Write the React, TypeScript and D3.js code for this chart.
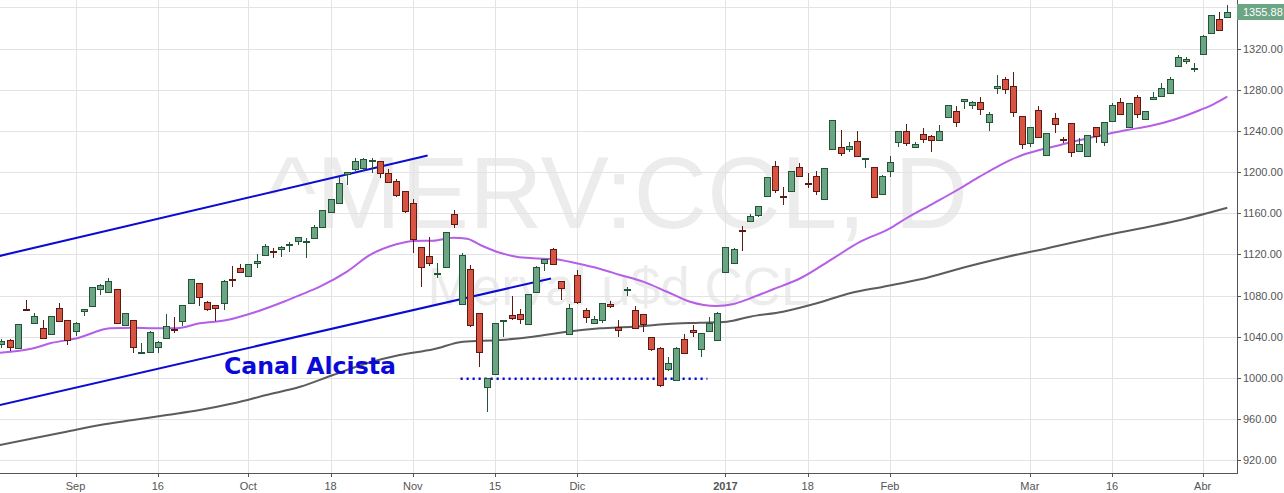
import React from 'react';
import * as d3 from 'd3';

const W = 1284;
const H = 493;

// OHLC series (daily candles)
const opens = [
  1032.7, 1036.6, 1029.4, 1067.0, 1053.7, 1048.3, 1042.5, 1067.7, 1056.1, 1046.0,
  1065.4, 1070.2, 1086.8, 1083.8, 1086.2, 1051.5, 1056.1, 1024.6, 1025.0, 1030.4,
  1039.2, 1047.6, 1055.4, 1073.2, 1092.0, 1074.1, 1070.6, 1073.2, 1096.5, 1106.9,
  1099.4, 1111.4, 1119.2, 1122.9, 1125.6, 1128.9, 1132.8, 1132.5, 1135.7, 1147.0,
  1161.0, 1169.7, 1197.9, 1203.3, 1203.7, 1211.2, 1210.8, 1198.9, 1191.4, 1181.4,
  1169.7, 1127.0, 1118.2, 1100.7, 1107.5, 1159.3, 1071.6, 1105.6, 1062.9, 991.5,
  1003.6, 1055.4, 1060.9, 1062.2, 1052.2, 1083.8, 1111.4, 1125.0, 1094.2, 1042.5,
  1099.8, 1065.8, 1053.7, 1056.6, 1071.9, 1049.1, 1086.0, 1066.1, 1061.9, 1039.5,
  1029.4, 1009.0, 998.1, 1037.6, 1046.3, 1027.9, 1045.7, 1036.9, 1102.7, 1111.4,
  1143.5, 1152.8, 1158.7, 1177.1, 1206.0, 1176.8, 1182.0, 1204.7, 1189.4, 1196.0,
  1173.6, 1222.8, 1224.1, 1222.8, 1230.0, 1212.6, 1204.7, 1178.5, 1200.8, 1229.0,
  1239.7, 1224.1, 1236.8, 1235.4, 1230.9, 1253.9, 1259.7, 1268.8, 1264.9, 1267.9,
  1248.4, 1281.5, 1290.2, 1283.4, 1254.2, 1228.0, 1260.1, 1216.6, 1252.6, 1232.2,
  1247.4, 1220.8, 1216.0, 1243.6, 1229.0, 1249.7, 1267.9, 1243.6, 1272.7, 1251.3,
  1270.8, 1274.3, 1276.6, 1303.1, 1307.7, 1300.9, 1314.5, 1334.9, 1348.5, 1351.0,
];
const highs = [
  1038.2, 1037.6, 1052.5, 1075.8, 1063.4, 1056.3, 1060.5, 1073.2, 1056.3, 1054.7,
  1066.7, 1088.5, 1091.3, 1096.9, 1086.5, 1063.5, 1056.5, 1033.7, 1045.2, 1035.9,
  1062.2, 1059.0, 1070.8, 1096.3, 1092.3, 1074.5, 1070.8, 1095.0, 1108.8, 1110.5,
  1111.0, 1120.5, 1130.2, 1126.0, 1128.0, 1131.8, 1137.3, 1136.0, 1148.2, 1163.3,
  1174.0, 1195.0, 1200.1, 1214.0, 1213.4, 1213.4, 1211.0, 1202.8, 1193.3, 1181.6,
  1173.6, 1127.2, 1137.3, 1111.4, 1142.0, 1163.2, 1121.1, 1109.8, 1063.0, 1000.0,
  1053.5, 1056.1, 1079.7, 1066.7, 1081.6, 1108.5, 1115.8, 1126.0, 1094.4, 1071.9,
  1104.9, 1068.0, 1060.2, 1073.0, 1074.5, 1056.1, 1088.7, 1070.0, 1062.2, 1039.8,
  1029.7, 1020.1, 1029.7, 1042.7, 1051.2, 1043.7, 1059.6, 1063.8, 1127.3, 1126.0,
  1147.7, 1159.0, 1167.4, 1195.3, 1210.8, 1185.3, 1201.4, 1208.6, 1198.9, 1201.1,
  1204.0, 1250.7, 1240.9, 1229.0, 1240.0, 1213.4, 1205.0, 1196.8, 1215.7, 1240.0,
  1246.8, 1229.6, 1243.2, 1235.7, 1245.8, 1265.5, 1264.3, 1271.0, 1269.4, 1272.7,
  1258.1, 1294.4, 1292.7, 1297.3, 1254.5, 1244.2, 1264.3, 1238.0, 1257.7, 1234.4,
  1248.0, 1232.9, 1236.4, 1243.9, 1248.7, 1267.5, 1271.7, 1267.2, 1274.7, 1259.7,
  1277.6, 1286.3, 1292.1, 1313.8, 1311.6, 1305.7, 1332.9, 1352.7, 1355.9, 1362.4,
];
const lows = [
  1028.9, 1026.5, 1029.0, 1065.8, 1053.1, 1038.6, 1042.0, 1054.4, 1032.4, 1040.8,
  1060.5, 1070.0, 1080.9, 1083.5, 1052.8, 1050.5, 1024.6, 1023.0, 1024.5, 1024.0,
  1038.9, 1043.4, 1050.8, 1072.8, 1070.2, 1065.4, 1055.4, 1066.4, 1088.1, 1102.4,
  1099.0, 1106.6, 1118.8, 1116.9, 1117.8, 1122.7, 1129.5, 1116.3, 1135.4, 1146.6,
  1160.6, 1169.0, 1187.5, 1201.4, 1201.4, 1198.9, 1194.0, 1189.2, 1176.1, 1160.6,
  1121.1, 1088.7, 1108.8, 1096.9, 1107.0, 1145.4, 1071.3, 1049.8, 1011.0, 967.3,
  1003.2, 1040.1, 1056.3, 1052.2, 1051.9, 1083.5, 1104.0, 1110.5, 1076.1, 1042.2,
  1071.9, 1053.7, 1052.8, 1053.1, 1067.7, 1039.8, 1080.0, 1048.0, 1045.0, 1026.5,
  991.5, 1006.8, 997.8, 1023.7, 1040.1, 1020.7, 1045.4, 1036.6, 1102.4, 1111.1,
  1123.7, 1152.5, 1156.1, 1176.8, 1180.0, 1168.1, 1181.7, 1196.2, 1184.3, 1177.8,
  1173.3, 1222.5, 1215.7, 1219.9, 1215.1, 1204.3, 1174.6, 1178.2, 1195.6, 1224.7,
  1225.7, 1223.8, 1228.0, 1219.9, 1230.6, 1253.5, 1244.1, 1261.0, 1261.6, 1255.5,
  1240.3, 1275.6, 1275.9, 1253.9, 1222.2, 1224.7, 1232.9, 1216.0, 1237.7, 1228.6,
  1215.0, 1220.5, 1215.7, 1228.0, 1225.7, 1249.4, 1255.8, 1243.3, 1252.3, 1250.7,
  1270.5, 1274.0, 1276.3, 1302.8, 1305.1, 1297.6, 1314.2, 1334.6, 1337.5, 1350.4,
];
const closes = [
  1035.9, 1029.8, 1052.2, 1066.1, 1060.2, 1039.2, 1059.9, 1055.4, 1036.9, 1053.4,
  1066.7, 1088.1, 1090.1, 1094.2, 1053.1, 1062.9, 1030.4, 1025.0, 1044.7, 1035.0,
  1050.2, 1046.6, 1070.6, 1095.9, 1078.7, 1067.0, 1068.3, 1094.5, 1095.9, 1102.7,
  1110.5, 1113.7, 1128.2, 1122.5, 1127.0, 1130.2, 1136.7, 1133.1, 1146.4, 1162.9,
  1173.6, 1189.2, 1199.8, 1210.8, 1212.8, 1212.0, 1198.9, 1190.7, 1177.5, 1162.2,
  1134.8, 1107.5, 1111.4, 1102.3, 1141.6, 1149.6, 1119.5, 1051.2, 1025.0, 999.7,
  1053.1, 1055.9, 1058.0, 1057.0, 1081.3, 1108.1, 1115.6, 1110.8, 1087.0, 1067.7,
  1073.8, 1059.6, 1057.0, 1072.6, 1070.0, 1046.4, 1086.7, 1048.3, 1052.5, 1028.5,
  992.9, 1014.3, 1029.4, 1024.0, 1044.4, 1043.4, 1053.4, 1062.9, 1127.0, 1125.0,
  1142.8, 1157.4, 1167.1, 1195.0, 1182.6, 1176.2, 1201.1, 1196.5, 1188.8, 1181.7,
  1203.7, 1250.4, 1218.3, 1225.7, 1215.4, 1213.3, 1176.1, 1196.5, 1209.6, 1239.7,
  1228.0, 1227.0, 1232.5, 1231.2, 1240.3, 1265.2, 1249.0, 1270.8, 1268.1, 1261.0,
  1256.2, 1283.7, 1280.5, 1258.7, 1227.0, 1243.9, 1234.4, 1237.7, 1247.1, 1231.6,
  1219.3, 1227.3, 1236.1, 1235.4, 1248.4, 1264.9, 1256.5, 1266.9, 1256.5, 1259.4,
  1273.0, 1281.5, 1290.2, 1311.6, 1310.2, 1301.4, 1332.6, 1352.4, 1337.8, 1355.88,
];

// Moving averages (bar index, value)
const maFastIdx = [-0.2, 3.9, 5.9, 9.2, 13.2, 16.0, 18.5, 21.3, 24.1, 27.4, 30.6, 34.3, 36.3, 38.7, 42.0, 44.8, 48.0, 50.1, 52.5, 54.9, 56.6, 58.2, 60.2, 62.6, 64.6, 67.1, 69.9, 72.8, 75.2, 78.0, 80.9, 83.7, 86.9, 89.0, 91.0, 93.8, 97.1, 101.1, 104.4, 108.0, 110.0, 113.3, 116.5, 118.9, 121.4, 123.8, 126.2, 128.7, 131.1, 133.9, 136.8, 139.6, 142.4, 145.7, 147.3, 149];
const maFastVal = [1024.6, 1028.9, 1033.7, 1038.6, 1048.3, 1048.9, 1048.3, 1048.3, 1053.1, 1056.3, 1063.4, 1074.1, 1080.6, 1088.7, 1103.3, 1119.5, 1129.9, 1133.1, 1133.4, 1136.3, 1135.3, 1129.2, 1122.7, 1117.8, 1116.3, 1115.6, 1111.4, 1105.9, 1100.1, 1093.6, 1083.8, 1074.1, 1069.9, 1071.9, 1077.4, 1086.2, 1096.9, 1116.3, 1132.4, 1145.4, 1155.2, 1169.7, 1184.1, 1195.6, 1206.9, 1215.7, 1221.5, 1226.4, 1231.2, 1236.1, 1240.9, 1244.8, 1250.7, 1260.4, 1265.9, 1273.3];
const maSlowIdx = [-0.2, 3.9, 7.9, 12.0, 16.0, 20.1, 24.1, 28.2, 32.2, 36.3, 40.3, 44.4, 48.4, 52.5, 56.1, 60.6, 64.6, 68.7, 72.8, 76.8, 80.9, 84.9, 88.2, 91.0, 95.0, 99.1, 103.1, 107.2, 111.7, 117.3, 123.8, 126.2, 133.5, 139.6, 143.3, 149];
const maSlowVal = [934.9, 941.4, 947.8, 954.3, 959.2, 964.1, 968.9, 975.4, 983.5, 991.5, 1002.9, 1014.3, 1022.3, 1027.9, 1035.3, 1036.9, 1040.1, 1045.0, 1048.3, 1049.8, 1052.5, 1053.7, 1054.7, 1059.6, 1064.4, 1072.6, 1082.3, 1088.7, 1095.9, 1108.1, 1120.5, 1124.4, 1137.5, 1147.2, 1153.5, 1165.4];

// Drawings
const channelUpperIdx = [-0.2, 51.8];
const channelUpperVal = [1118.6, 1216.1];
const channelLowerIdx = [-0.2, 66.8];
const channelLowerVal = [973.8, 1096.7];
const supportIdx = [55.8, 85.8];
const supportVal = [999.3, 999.3];

// Axes
const priceTicks = [920, 960, 1000, 1040, 1080, 1120, 1160, 1200, 1240, 1280, 1320];
const gridPrices = [920, 960, 1000, 1040, 1080, 1120, 1160, 1200, 1240, 1280, 1320, 1360];
const timeTickIdx = [9, 19, 30, 40, 50, 60, 70, 88, 98, 108, 125, 135, 146];
const timeTickLabels = ['Sep', '16', 'Oct', '18', 'Nov', '15', 'Dic', '2017', '18', 'Feb', 'Mar', '16', 'Abr'];
const lastPrice = 1355.88;

const UP_FILL = '#6ba583';
const UP_LINE = '#225437';
const DN_FILL = '#d75442';
const DN_LINE = '#5b1a13';

export default function App() {
  const plotR = 1237;
  const plotB = 473;
  const x = d3.scaleLinear().domain([0, 149]).range([1.46, 1227.3]);
  const y = d3.scaleLinear().domain([1000, 1320]).range([378, 48.6]);
  const idx = d3.range(closes.length);

  const smooth = d3
    .line<[number, number]>()
    .x((d) => x(d[0]))
    .y((d) => y(d[1]))
    .curve(d3.curveMonotoneX);
  const straight = d3
    .line<[number, number]>()
    .x((d) => x(d[0]))
    .y((d) => y(d[1]));

  const pairs = (a: number[], b: number[]) => a.map((v, i) => [v, b[i]] as [number, number]);

  const axisFont = "'Liberation Sans', Arial, sans-serif";

  return (
    <svg
      width={W}
      height={H}
      style={{ position: 'absolute', left: 0, top: 0, background: '#fff' }}
    >
      <defs>
        <clipPath id="plot">
          <rect x={0} y={0} width={plotR} height={plotB} />
        </clipPath>
      </defs>
      <rect x={0} y={0} width={W} height={H} fill="#ffffff" />

      {/* watermark */}
      <g fontFamily={axisFont} fill="#ececec" textAnchor="middle">
        <text x={618} y={228} fontSize={102}>^MERV:CCL, D</text>
        <text x={619} y={305} fontSize={53}>Merval u$d CCL</text>
      </g>

      {/* grid */}
      <g stroke="#e3e3e3" strokeWidth={1} shapeRendering="crispEdges">
        {gridPrices.map((p) => (
          <line key={'h' + p} x1={0} x2={plotR} y1={Math.round(y(p)) + 0.5} y2={Math.round(y(p)) + 0.5} />
        ))}
        {timeTickIdx.map((t) => (
          <line key={'v' + t} x1={Math.round(x(t)) + 0.5} x2={Math.round(x(t)) + 0.5} y1={0} y2={plotB} />
        ))}
      </g>

      <g clipPath="url(#plot)">
        {/* moving averages */}
        <path d={smooth(pairs(maSlowIdx, maSlowVal)) || ''} fill="none" stroke="#5c5c5c" strokeWidth={2} />
        <path d={smooth(pairs(maFastIdx, maFastVal)) || ''} fill="none" stroke="#b55ee6" strokeWidth={2} />

        {/* channel */}
        <path d={straight(pairs(channelUpperIdx, channelUpperVal)) || ''} stroke="#0b0bd2" strokeWidth={2} fill="none" />
        <path d={straight(pairs(channelLowerIdx, channelLowerVal)) || ''} stroke="#0b0bd2" strokeWidth={2} fill="none" />
        <path
          d={straight(pairs(supportIdx, supportVal)) || ''}
          stroke="#0b0bd2"
          strokeWidth={2.5}
          strokeDasharray="2.2,3.8"
          fill="none"
        />

        {/* candles */}
        <g shapeRendering="crispEdges">
          {idx.map((i) => {
            const o = opens[i];
            const c = closes[i];
            const up = c >= o;
            const a = Math.round(x(i) - 3);
            const top = Math.round(y(Math.max(o, c)));
            const bot = Math.round(y(Math.min(o, c)));
            const bh = Math.max(bot - top, 1);
            const line = up ? UP_LINE : DN_LINE;
            return (
              <g key={i}>
                <line
                  x1={a + 3.5}
                  x2={a + 3.5}
                  y1={Math.round(y(highs[i]))}
                  y2={Math.round(y(lows[i]))}
                  stroke={line}
                  strokeWidth={1}
                />
                <rect x={a + 0.5} y={top + 0.5} width={6} height={bh} fill={up ? UP_FILL : DN_FILL} stroke={line} strokeWidth={1} />
              </g>
            );
          })}
        </g>
      </g>

      {/* annotation */}
      <text x={224} y={374} fontFamily="'DejaVu Sans', Verdana, sans-serif" fontWeight="bold" fontSize={23.6} fill="#0a0ad8">
        Canal Alcista
      </text>

      {/* axes */}
      <g stroke="#555" strokeWidth={1} shapeRendering="crispEdges">
        <line x1={plotR + 0.5} x2={plotR + 0.5} y1={0} y2={plotB + 1} />
        <line x1={0} x2={plotR + 1} y1={plotB + 0.5} y2={plotB + 0.5} />
        {priceTicks.map((p) => (
          <line key={'rt' + p} x1={plotR} x2={plotR + 4} y1={Math.round(y(p)) + 0.5} y2={Math.round(y(p)) + 0.5} />
        ))}
        {timeTickIdx.map((t) => (
          <line key={'bt' + t} x1={Math.round(x(t)) + 0.5} x2={Math.round(x(t)) + 0.5} y1={plotB} y2={plotB + 4} />
        ))}
      </g>
      <g fontFamily={axisFont} fontSize={11} fill="#555">
        {priceTicks.map((p) => (
          <text key={'pl' + p} x={1243} y={y(p) + 4}>
            {d3.format('.2f')(p)}
          </text>
        ))}
        {timeTickIdx.map((t, k) => (
          <text
            key={'tl' + t}
            x={x(t)}
            y={490}
            textAnchor="middle"
            fontWeight={timeTickLabels[k] === '2017' ? 'bold' : 'normal'}
          >
            {timeTickLabels[k]}
          </text>
        ))}
      </g>

      {/* last price label */}
      <rect x={plotR} y={Math.round(y(lastPrice)) - 8} width={W - plotR} height={16} fill="#6ba583" />
      <text x={1243} y={y(lastPrice) + 4} fontFamily={axisFont} fontSize={11} fill="#ffffff">
        {d3.format('.2f')(lastPrice)}
      </text>
    </svg>
  );
}
